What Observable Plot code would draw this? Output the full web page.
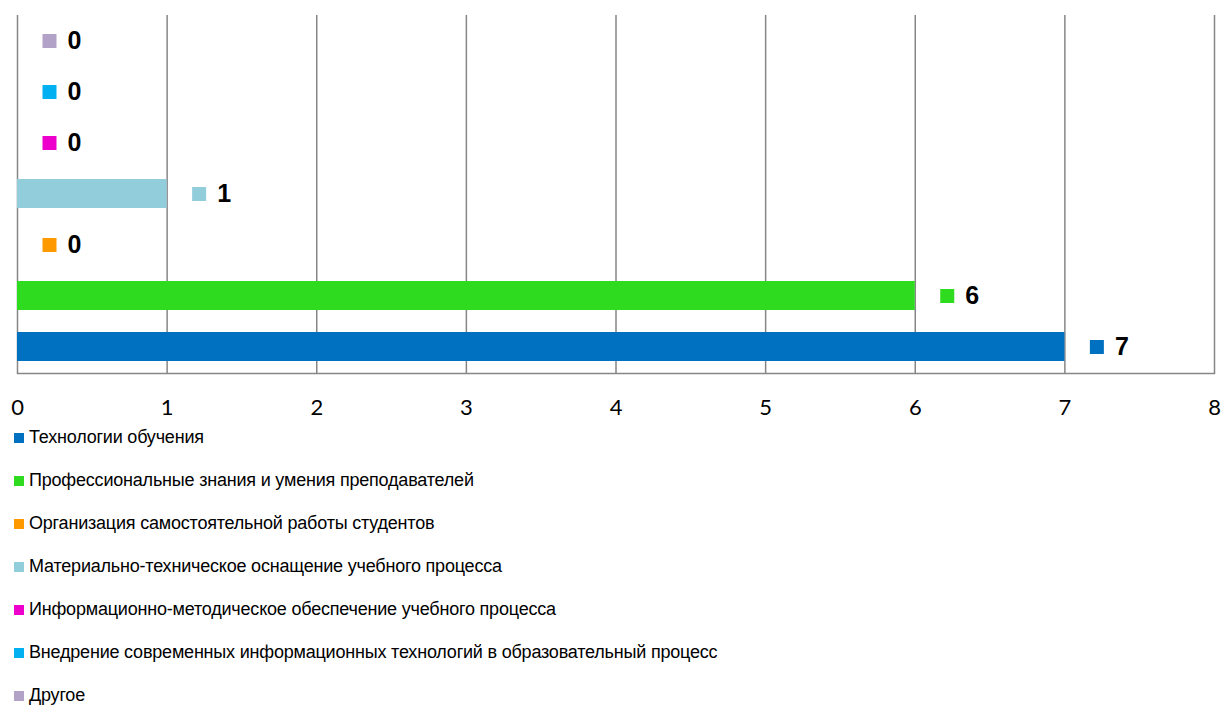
<!DOCTYPE html>
<html>
<head>
<meta charset="utf-8">
<script src="https://cdn.jsdelivr.net/npm/d3@7"></script>
<script src="https://cdn.jsdelivr.net/npm/@observablehq/plot@0.6"></script>
<style>
  body { margin: 0; background: #fff; }
  #chart svg { display: block; }
  .legend { margin-top: -4px; font-family: "Liberation Sans Narrow", "Arial Narrow", "Liberation Sans", sans-serif; font-size: 18px; letter-spacing: -0.2px; color: #000; }
  .legend .item { height: 43px; display: flex; align-items: center; padding-left: 14px; }
  .legend .sw { width: 10px; height: 10px; margin-right: 5px; flex: none; }
</style>
</head>
<body>
<div id="chart"></div>
<div class="legend" id="legend"></div>
<script>
const categories = [
  "Технологии обучения",
  "Профессиональные знания и умения преподавателей",
  "Организация самостоятельной работы студентов",
  "Материально-техническое оснащение учебного процесса",
  "Информационно-методическое обеспечение учебного процесса",
  "Внедрение современных информационных технологий в образовательный процесс",
  "Другое"
];
const values = [7, 6, 0, 1, 0, 0, 0];
const colors = ["#0070C0", "#2EDB1E", "#FF9900", "#92CDDC", "#EE00CC", "#00B0F0", "#B2A2C7"];
const xTicks = [0, 1, 2, 3, 4, 5, 6, 7, 8];

const data = categories.map((c, i) => ({category: c, value: values[i], color: colors[i]}));
const yOrder = categories.slice().reverse();

const chart = Plot.plot({
  width: 1223,
  height: 420,
  marginLeft: 17,
  marginRight: 9,
  marginTop: 15,
  marginBottom: 47,
  x: {domain: [0, 8], ticks: xTicks, label: null},
  y: {domain: yOrder, paddingInner: 0.43, paddingOuter: 0.215, axis: null},
  color: {type: "identity"},
  style: {background: "#fff"},
  marks: [
    Plot.ruleX(xTicks, {stroke: "#868686", strokeWidth: 1.5}),
    Plot.frame({anchor: "bottom", stroke: "#868686", strokeWidth: 1.5}),
    Plot.barX(data, {x: "value", y: "category", fill: "color"}),
    Plot.dot(data, {x: "value", y: "category", fill: "color", symbol: "square", r: 7.9, dx: 32, stroke: null}),
    Plot.text(data, {x: "value", y: "category", text: d => String(d.value), dx: 50, textAnchor: "start",
      fontSize: 25, fontWeight: "bold", fill: "#000",
      fontFamily: "'Liberation Sans Narrow', 'Arial Narrow', 'Liberation Sans', sans-serif"}),
    Plot.axisX({ticks: xTicks, tickSize: 0, tickPadding: 26, fontSize: 22, tickFormat: d => String(d),
      fontFamily: "Lato, 'Open Sans', sans-serif", fill: "#000", anchor: "bottom", label: null})
  ]
});
document.getElementById("chart").appendChild(chart);

const legend = document.getElementById("legend");
categories.forEach((c, i) => {
  const item = document.createElement("div");
  item.className = "item";
  const sw = document.createElement("span");
  sw.className = "sw";
  sw.style.background = colors[i];
  const t = document.createElement("span");
  t.textContent = c;
  item.appendChild(sw);
  item.appendChild(t);
  legend.appendChild(item);
});
</script>
</body>
</html>
